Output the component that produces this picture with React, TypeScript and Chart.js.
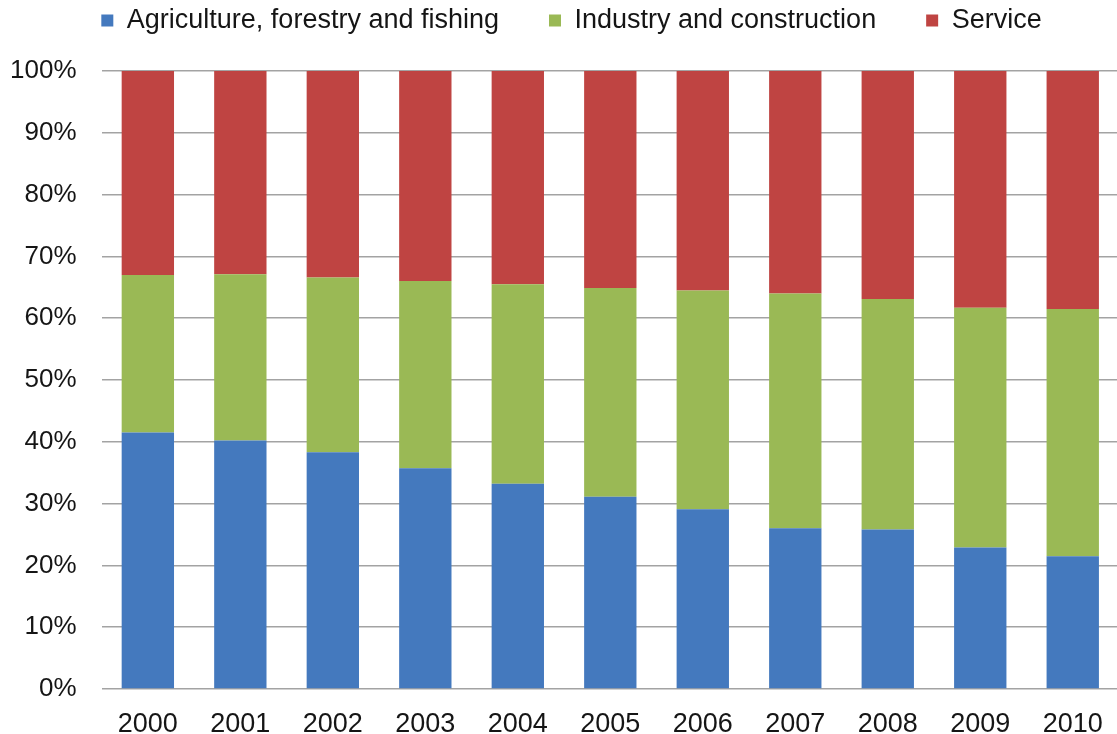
import React, { useEffect, useRef } from 'react';
import { Chart, registerables } from 'chart.js';

Chart.register(...registerables);

// ---- data ----
const years = ['2000', '2001', '2002', '2003', '2004', '2005', '2006', '2007', '2008', '2009', '2010'];
const seriesNames = ['Agriculture, forestry and fishing', 'Industry and construction', 'Service'];
const agriculture = [41.5, 40.2, 38.3, 35.7, 33.2, 31.1, 29.1, 26.0, 25.8, 22.9, 21.5];
const industry = [25.5, 26.9, 28.3, 30.3, 32.3, 33.8, 35.4, 38.0, 37.3, 38.8, 40.0];
const service = [33.0, 32.9, 33.4, 34.0, 34.5, 35.1, 35.5, 36.0, 36.9, 38.3, 38.5];
const yTickLabels = ['0%', '10%', '20%', '30%', '40%', '50%', '60%', '70%', '80%', '90%', '100%'];

// ---- style ----
const COLORS = ['#4479BE', '#9AB955', '#BF4442'];
const FONT = 'Liberation Sans, Arial, Helvetica, sans-serif';
const TEXT = '#151515';
const GRID = '#a3a3a3';
const W = 1119;
const H = 734;

const legendPlacement = {
  id: 'legendPlacement',
  beforeLayout(chart: any) {
    const lg = chart.legend;
    if (lg && !lg.__patched) {
      const fit = lg.fit;
      lg.fit = function () {
        fit.call(this);
        this.height = 71;
      };
      lg.__patched = true;
    }
  },
  afterLayout(chart: any) {
    const lg = chart.legend;
    if (lg) {
      lg.left += 12;
      lg.right += 12;
      lg.top = -43;
    }
  },
};

export default function App() {
  const ref = useRef<HTMLCanvasElement | null>(null);

  useEffect(() => {
    if (!ref.current) return;
    const values = [agriculture, industry, service];
    const chart = new Chart(ref.current, {
      type: 'bar',
      data: {
        labels: years,
        datasets: seriesNames.map((name, i) => ({
          label: name,
          data: values[i],
          backgroundColor: COLORS[i],
          borderWidth: 0,
          categoryPercentage: 1,
          barPercentage: 0.566,
        })),
      },
      options: {
        responsive: false,
        animation: false,
        devicePixelRatio: 1,
        layout: { padding: 0 },
        plugins: {
          tooltip: { enabled: false },
          legend: {
            display: true,
            position: 'top',
            labels: {
              boxWidth: 12,
              boxHeight: 12,
              padding: 50,
              color: TEXT,
              font: { family: FONT, size: 27 },
            },
          },
        },
        scales: {
          x: {
            stacked: true,
            grid: { display: false },
            border: { display: false },
            ticks: {
              color: TEXT,
              font: { family: FONT, size: 27 },
              padding: 11.5,
              maxRotation: 0,
              autoSkip: false,
            },
            afterFit(scale: any) {
              scale.height = 45;
            },
          },
          y: {
            stacked: true,
            min: 0,
            max: 100,
            grid: { color: GRID, lineWidth: 1.5, drawTicks: false },
            border: { display: false },
            ticks: {
              stepSize: 10,
              color: TEXT,
              font: { family: FONT, size: 26 },
              padding: 25,
              callback: (_v: any, i: number) => yTickLabels[i],
            },
            afterFit(scale: any) {
              scale.width = 101.6;
            },
          },
        },
      },
      plugins: [legendPlacement],
    });
    return () => chart.destroy();
  }, []);

  return (
    <div
      style={{
        position: 'absolute',
        left: 0,
        top: 0,
        width: 1117,
        height: 734,
        overflow: 'hidden',
        background: '#ffffff',
      }}
    >
      <canvas ref={ref} width={W} height={H} />
    </div>
  );
}
